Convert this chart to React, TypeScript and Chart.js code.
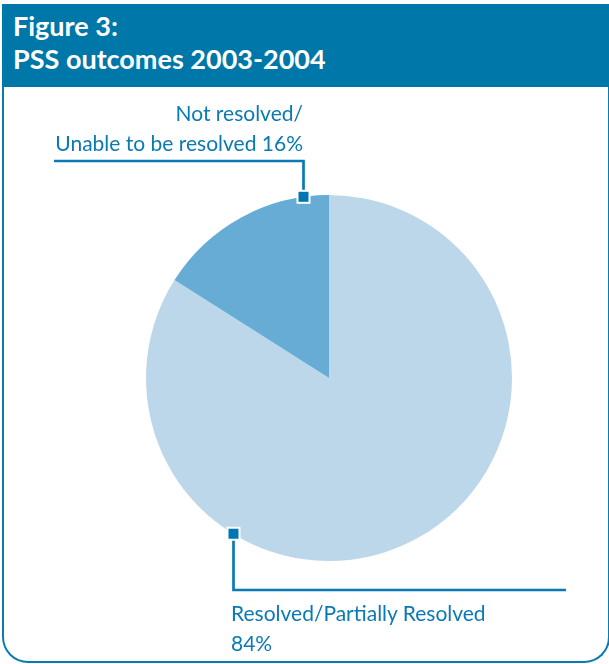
import React, { useEffect, useRef } from "react";
import { Chart, registerables } from "chart.js";

Chart.register(...registerables);

const categories = ["Resolved/Partially Resolved", "Not resolved/Unable to be resolved"];
const values = [84, 16];
const colors = ["#bdd7ea", "#67acd5"];
const titleLines = ["Figure 3:", "PSS outcomes 2003-2004"];
const labelDark = ["Not resolved/", "Unable to be resolved 16%"];
const labelLight = ["Resolved/Partially Resolved", "84%"];

const BLUE = "#0a7ab4";

const calloutPlugin = {
  id: "callouts",
  afterDatasetsDraw(chart: any) {
    const meta = chart.getDatasetMeta(0);
    const ctx = chart.ctx as CanvasRenderingContext2D;
    const specs = [
      { idx: 0, frac: 0.7, endY: 590, endX: 566 },
      { idx: 1, frac: 0.86, endY: 161, endX: 54 },
    ];
    ctx.save();
    for (const s of specs) {
      const arc = meta.data[s.idx] as any;
      const { x, y, startAngle, endAngle, outerRadius } = arc.getProps(
        ["x", "y", "startAngle", "endAngle", "outerRadius"],
        true
      );
      const a = startAngle + (endAngle - startAngle) * s.frac;
      const mx = x + Math.cos(a) * outerRadius;
      const my = y + Math.sin(a) * outerRadius;
      const lx = Math.round(mx) + 0.5;
      ctx.strokeStyle = BLUE;
      ctx.lineWidth = 2.7;
      ctx.beginPath();
      ctx.moveTo(lx, my);
      ctx.lineTo(lx, s.endY);
      ctx.lineTo(s.endX, s.endY);
      ctx.stroke();
      ctx.fillStyle = "#ffffff";
      ctx.fillRect(lx - 7, my - 7, 14, 14);
      ctx.fillStyle = "#0077b0";
      ctx.fillRect(lx - 5, my - 5, 10, 10);
    }
    ctx.restore();
  },
};

export default function App() {
  const ref = useRef<HTMLCanvasElement | null>(null);
  useEffect(() => {
    if (!ref.current) return;
    const chart = new Chart(ref.current, {
      type: "pie",
      data: {
        labels: categories,
        datasets: [
          {
            data: values,
            backgroundColor: colors,
            borderWidth: 0,
          },
        ],
      },
      options: {
        animation: false,
        responsive: false,
        layout: { padding: { left: 146, right: 97, top: 195, bottom: 103 } },
        plugins: { legend: { display: false }, tooltip: { enabled: false } },
      },
      plugins: [calloutPlugin],
    });
    return () => chart.destroy();
  }, []);

  const font = "'Lato', 'Open Sans', sans-serif";
  return (
    <div style={{ position: "absolute", left: 0, top: 0, width: 609, height: 664, background: "#fff", overflow: "hidden" }}>
      <div
        style={{
          position: "absolute",
          left: 2,
          top: 4,
          width: 604,
          height: 657,
          border: `2px solid ${BLUE}`,
          borderTop: "none",
          borderRadius: "0 0 26px 26px",
        }}
      />
      <div
        style={{
          position: "absolute",
          left: 2,
          top: 4,
          width: 608,
          height: 83,
          background: "#0077a9",
          color: "#fff",
          fontFamily: font,
          fontWeight: 700,
          fontSize: 27,
          lineHeight: "33px",
          paddingLeft: 11,
          paddingTop: 5,
          boxSizing: "border-box",
        }}
      >
        <div>{titleLines[0]}</div>
        <div>{titleLines[1]}</div>
      </div>
      <canvas ref={ref} width={609} height={664} style={{ position: "absolute", left: 0, top: 0 }} />
      <div
        style={{
          position: "absolute",
          right: 609 - 303,
          top: 98,
          color: "#0a7ab4",
          fontFamily: font,
          fontSize: 21,
          lineHeight: "30px",
          textAlign: "right",
          whiteSpace: "nowrap",
        }}
      >
        <div>{labelDark[0]}</div>
        <div>{labelDark[1]}</div>
      </div>
      <div
        style={{
          position: "absolute",
          left: 231,
          top: 598,
          color: "#0a7ab4",
          fontFamily: font,
          fontSize: 21,
          lineHeight: "30px",
          whiteSpace: "nowrap",
        }}
      >
        <div>{labelLight[0]}</div>
        <div>{labelLight[1]}</div>
      </div>
    </div>
  );
}
